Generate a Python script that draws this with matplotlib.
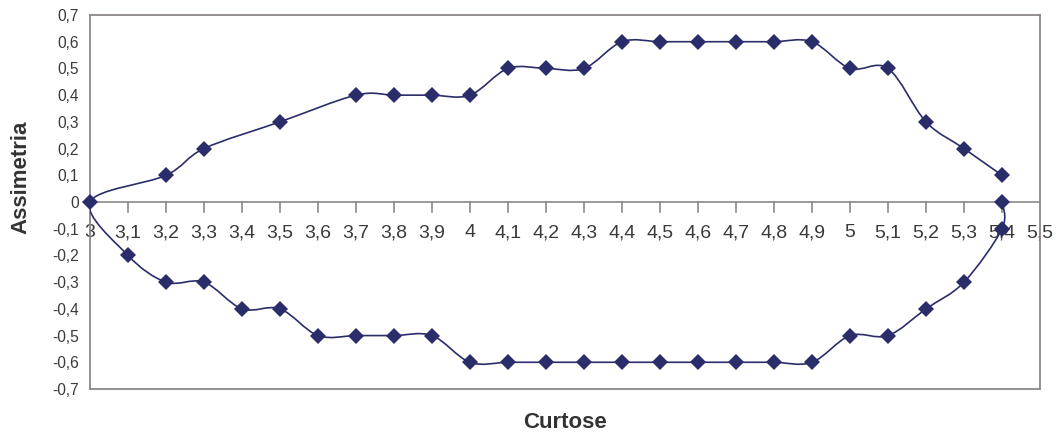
import numpy as np
import matplotlib
matplotlib.use("Agg")
import matplotlib.pyplot as plt
from matplotlib.path import Path
from matplotlib.patches import PathPatch

# Data: a single series going from (5.4, 0) around the lower branch,
# through (3, 0), then along the upper branch to (5.4, 0.1)
curtose = [5.4, 5.4, 5.3, 5.2, 5.1, 5.0, 4.9, 4.8, 4.7, 4.6, 4.5, 4.4, 4.3, 4.2, 4.1, 4.0,
           3.9, 3.8, 3.7, 3.6, 3.5, 3.4, 3.3, 3.2, 3.1, 3.0,
           3.2, 3.3, 3.5, 3.7, 3.8, 3.9, 4.0, 4.1, 4.2, 4.3, 4.4, 4.5, 4.6, 4.7, 4.8, 4.9,
           5.0, 5.1, 5.2, 5.3, 5.4]
assimetria = [0.0, -0.1, -0.3, -0.4, -0.5, -0.5, -0.6, -0.6, -0.6, -0.6, -0.6, -0.6, -0.6, -0.6, -0.6, -0.6,
              -0.5, -0.5, -0.5, -0.5, -0.4, -0.4, -0.3, -0.3, -0.2, 0.0,
              0.1, 0.2, 0.3, 0.4, 0.4, 0.4, 0.4, 0.5, 0.5, 0.5, 0.6, 0.6, 0.6, 0.6, 0.6, 0.6,
              0.5, 0.5, 0.3, 0.2, 0.1]

x_ticks = [3.0, 3.1, 3.2, 3.3, 3.4, 3.5, 3.6, 3.7, 3.8, 3.9, 4.0, 4.1, 4.2, 4.3, 4.4, 4.5,
           4.6, 4.7, 4.8, 4.9, 5.0, 5.1, 5.2, 5.3, 5.4, 5.5]
x_labels = ["3", "3,1", "3,2", "3,3", "3,4", "3,5", "3,6", "3,7", "3,8", "3,9", "4", "4,1", "4,2",
            "4,3", "4,4", "4,5", "4,6", "4,7", "4,8", "4,9", "5", "5,1", "5,2", "5,3", "5,4", "5,5"]
y_ticks = [-0.7, -0.6, -0.5, -0.4, -0.3, -0.2, -0.1, 0.0, 0.1, 0.2, 0.3, 0.4, 0.5, 0.6, 0.7]
y_labels = ["-0,7", "-0,6", "-0,5", "-0,4", "-0,3", "-0,2", "-0,1", "0",
            "0,1", "0,2", "0,3", "0,4", "0,5", "0,6", "0,7"]

LINE = "#2B2D6A"
FRAME = "#8E8686"
TXT = "#3A3A3A"

plt.rcParams['font.family'] = ['Liberation Sans', 'DejaVu Sans']

fig = plt.figure(figsize=(10.6, 4.41), dpi=100)
ax = fig.add_axes([90 / 1060, 1 - 389 / 441, 950 / 1060, 374 / 441])
ax.set_xlim(3.0, 5.5)
ax.set_ylim(-0.7, 0.7)

# Smoothed line (Excel-like Catmull-Rom Bezier)
P = np.column_stack([curtose, assimetria]).astype(float)
n = len(P)
verts = [tuple(P[0])]
codes = [Path.MOVETO]
for i in range(n - 1):
    p0 = P[i - 1] if i > 0 else P[i]
    p1 = P[i]
    p2 = P[i + 1]
    p3 = P[i + 2] if i + 2 < n else P[i + 1]
    c1 = p1 + (p2 - p0) / 6.0
    c2 = p2 - (p3 - p1) / 6.0
    verts += [tuple(c1), tuple(c2), tuple(p2)]
    codes += [Path.CURVE4] * 3
patch = PathPatch(Path(verts, codes), facecolor="none", edgecolor=LINE, lw=1.2, zorder=3)
ax.add_patch(patch)
ax.plot(curtose, assimetria, linestyle="none", marker="D", markersize=8.6,
        color=LINE, markeredgewidth=0, zorder=4, clip_on=False)

# Frame
for s in ax.spines.values():
    s.set_color(FRAME)
    s.set_linewidth(1.3)

# x-axis line at y=0
ax.axhline(0, color="#8A8A8A", lw=1.2, zorder=1)

ax.set_yticks(y_ticks)
ax.set_yticklabels(y_labels, fontsize=11.2, color=TXT)
ax.tick_params(axis="y", length=0, pad=8)

ax.set_xticks([])
for xv, lab in zip(x_ticks, x_labels):
    if xv > 3.0 and xv < 5.5:
        ax.plot([xv, xv], [0, -0.037], color="#8A8A8A", lw=1.2, zorder=1)
    ax.annotate(lab, xy=(xv, 0), xycoords="data", xytext=(0, -22), textcoords="offset pixels",
                ha="center", va="top", fontsize=14, color=TXT, zorder=2,
                annotation_clip=False)

fig.text(21 / 1060, 1 - 177 / 441, "Assimetria", rotation=90, ha="center", va="center",
         fontsize=16, fontweight="bold", color="#333333")
fig.text(565 / 1060, 1 - 423 / 441, "Curtose", ha="center", va="center",
         fontsize=16, fontweight="bold", color="#333333")

fig.savefig("out.png", dpi=100)
